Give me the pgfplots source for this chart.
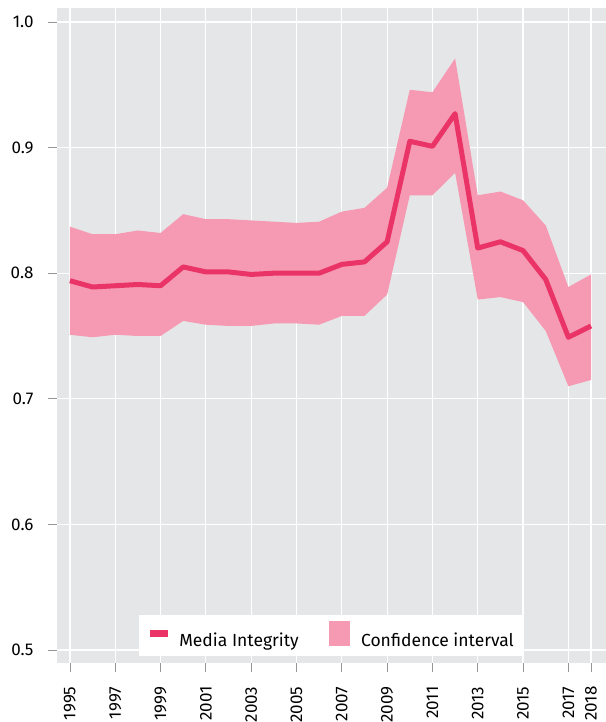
\documentclass[border=0pt]{standalone}
\usepackage{pgfplots}
\pgfplotsset{compat=1.18}
\usepackage{pgfplotstable}
\usepgfplotslibrary{fillbetween}
\usepackage{fontspec}
\setmainfont{Fira Sans}
\definecolor{bggray}{RGB}{229,230,232}
\definecolor{mainline}{RGB}{234,52,104}
\definecolor{cifill}{RGB}{245,154,178}
\definecolor{tickgray}{RGB}{150,150,150}

\pgfplotstableread{
year mid upper lower
1995 0.794 0.837 0.751
1996 0.789 0.831 0.749
1997 0.790 0.831 0.751
1998 0.791 0.834 0.750
1999 0.790 0.832 0.750
2000 0.805 0.847 0.762
2001 0.801 0.843 0.759
2002 0.801 0.843 0.758
2003 0.799 0.842 0.758
2004 0.800 0.841 0.760
2005 0.800 0.840 0.760
2006 0.800 0.841 0.759
2007 0.807 0.849 0.766
2008 0.809 0.852 0.766
2009 0.825 0.868 0.783
2010 0.905 0.946 0.862
2011 0.901 0.944 0.862
2012 0.927 0.971 0.880
2013 0.820 0.862 0.779
2014 0.825 0.865 0.781
2015 0.818 0.858 0.777
2016 0.795 0.838 0.754
2017 0.749 0.789 0.710
2018 0.758 0.799 0.715
}\datatable

\begin{document}
\begin{tikzpicture}
\begin{axis}[
  scale only axis,
  width=549pt, height=655pt,
  xmin=1994.43, xmax=2018.66,
  ymin=0.4897, ymax=1.0111,
  axis background/.style={fill=bggray},
  axis line style={draw=none},
  xtick={1995,1997,1999,2001,2003,2005,2007,2009,2011,2013,2015,2017,2018},
  ytick={0.5,0.6,0.7,0.8,0.9,1.0},
  grid=major,
  major grid style={white, line width=1.2pt},
  tick align=outside,
  major tick length=9pt,
  tick style={tickgray, line width=0.8pt},
  xtick pos=bottom, ytick pos=left,
  xticklabel shift=11pt, yticklabel shift=11pt,
  xticklabel style={rotate=90, anchor=east, font=\fontsize{17}{19}\selectfont},
  yticklabel style={font=\fontsize{17}{19}\selectfont},
  x tick label style={/pgf/number format/.cd, 1000 sep={}, assume math mode=true},
  y tick label style={/pgf/number format/.cd, fixed, fixed zerofill, precision=1, assume math mode=true},
  legend style={at={(0.5,0.0111)}, anchor=south, legend columns=2, draw=none, fill=white,
    font=\fontsize{17.5}{20}\selectfont, inner xsep=8pt, inner ysep=6pt,
    /tikz/every even column/.append style={column sep=28.5pt}},
  legend cell align=left,
]
\addplot[name path=U, draw=none, forget plot] table[x=year, y=upper] {\datatable};
\addplot[name path=L, draw=none, forget plot] table[x=year, y=lower] {\datatable};
\addplot[cifill, draw=none, forget plot] fill between[of=U and L];
\addplot[mainline, line width=5pt, line join=round, forget plot] table[x=year, y=mid] {\datatable};
\addlegendimage{legend image code/.code={\draw[mainline, line width=6.5pt] (0pt,6.7pt) -- (17.7pt,6.7pt); \path (26.7pt,0pt);}}
\addlegendentry{Media Integrity}
\addlegendimage{legend image code/.code={\fill[cifill] (0pt,-5.6pt) rectangle (20pt,18.4pt); \path (29.5pt,0pt);}}
\addlegendentry{Confidence interval}
\end{axis}
\pgfresetboundingbox
\useasboundingbox ([shift={(-57pt,-59pt)}]current axis.south west) rectangle ([shift={(0pt,8pt)}]current axis.north east);
\end{tikzpicture}
\end{document}
